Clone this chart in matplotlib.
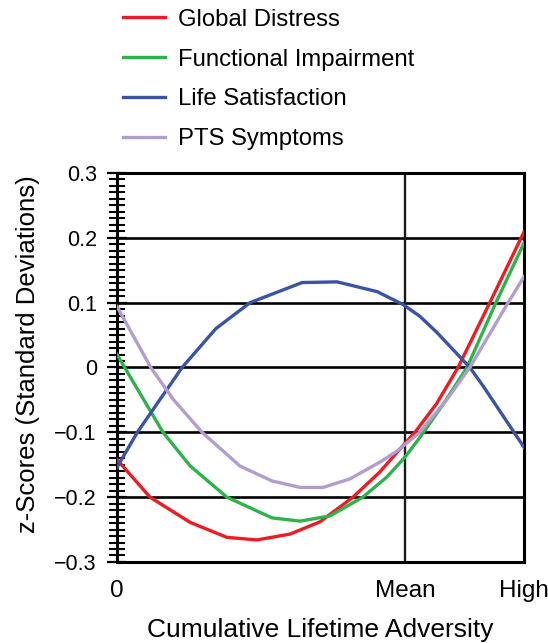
import matplotlib
matplotlib.use("Agg")
import matplotlib.pyplot as plt
from matplotlib.ticker import MultipleLocator

plt.rcParams["font.family"] = ["Liberation Sans", "DejaVu Sans"]
plt.rcParams["font.size"] = 15.5

# adversity on a 0..1 scale (0 = none, 1 = high)
mean_x = 0.708
x_ticks = [0, mean_x, 1.0]
x_ticklabels = ["0", "Mean", "High"]

labels = ["Global Distress", "Functional Impairment", "Life Satisfaction", "PTS Symptoms"]
colors = ["#ED1C24", "#2DB34A", "#3A53A4", "#B39DCF"]

distress_x = [0, 0.081, 0.18, 0.27, 0.344, 0.425, 0.499, 0.58, 0.646, 0.695, 0.732, 0.785, 0.838, 0.916, 1.0]
distress_y = [-0.142, -0.2, -0.239, -0.262, -0.266, -0.257, -0.238, -0.2, -0.161, -0.126, -0.1, -0.056, 0.0, 0.1, 0.209]

impair_x = [0, 0.113, 0.18, 0.27, 0.381, 0.45, 0.523, 0.604, 0.663, 0.708, 0.744, 0.80, 0.86, 0.931, 1.0]
impair_y = [0.02, -0.1, -0.152, -0.2, -0.232, -0.237, -0.229, -0.2, -0.169, -0.138, -0.108, -0.058, 0.0, 0.1, 0.192]

satis_x = [0, 0.05, 0.16, 0.243, 0.327, 0.455, 0.541, 0.639, 0.703, 0.744, 0.786, 0.867, 0.90, 1.0]
satis_y = [-0.154, -0.1, 0.0, 0.06, 0.1, 0.131, 0.132, 0.117, 0.097, 0.079, 0.054, 0.0, -0.029, -0.123]

pts_x = [0, 0.083, 0.138, 0.209, 0.302, 0.381, 0.45, 0.506, 0.572, 0.646, 0.688, 0.744, 0.81, 0.867, 0.961, 1.0]
pts_y = [0.094, 0.0, -0.049, -0.1, -0.152, -0.175, -0.185, -0.185, -0.172, -0.146, -0.129, -0.1, -0.05, 0.0, 0.1, 0.14]

series = [(distress_x, distress_y), (impair_x, impair_y), (satis_x, satis_y), (pts_x, pts_y)]

fig = plt.figure(figsize=(5.48, 6.43), dpi=100)
ax = fig.add_axes([0.2135, 0.126, 0.7427, 0.605])

# grid lines
for yv in [-0.2, -0.1, 0, 0.1, 0.2]:
    ax.axhline(yv, color="black", lw=1.9, zorder=1)
ax.axvline(mean_x, color="#1a1a1a", lw=1.7, zorder=1)

handles = []
for (xs, ys), lab, c in zip(series, labels, colors):
    h, = ax.plot(xs, ys, color=c, lw=2.4, label=lab, zorder=3)
    handles.append(h)

ax.set_xlim(0, 1)
ax.set_ylim(-0.3, 0.3)
ax.set_xticks(x_ticks)
ax.set_xticklabels(x_ticklabels, fontsize=17.5)
ax.tick_params(axis="x", length=0, pad=13)
ax.set_yticks([-0.3, -0.2, -0.1, 0, 0.1, 0.2, 0.3])
ax.set_yticklabels(["\u22120.3", "\u22120.2", "\u22120.1", "0", "0.1", "0.2", "0.3"])
ax.yaxis.set_minor_locator(MultipleLocator(0.01))
ax.tick_params(axis="y", which="major", direction="inout", length=15, width=1.6, pad=7)
ax.tick_params(axis="y", which="minor", direction="inout", length=11, width=1.5)
for sp in ax.spines.values():
    sp.set_linewidth(2.2)

ax.set_ylabel("z-Scores (Standard Deviations)", fontsize=18.5)
ax.yaxis.set_label_coords(-0.19, 0.535)
ax.set_xlabel("Cumulative Lifetime Adversity", fontsize=19)
ax.xaxis.set_label_coords(0.5, -0.145)

fig.legend(handles=handles, loc="upper left", bbox_to_anchor=(0.186, 1.02),
           frameon=False, handlelength=1.76, handletextpad=0.54, labelspacing=0.75,
           fontsize=17.2)

fig.savefig("out.png", dpi=100)
